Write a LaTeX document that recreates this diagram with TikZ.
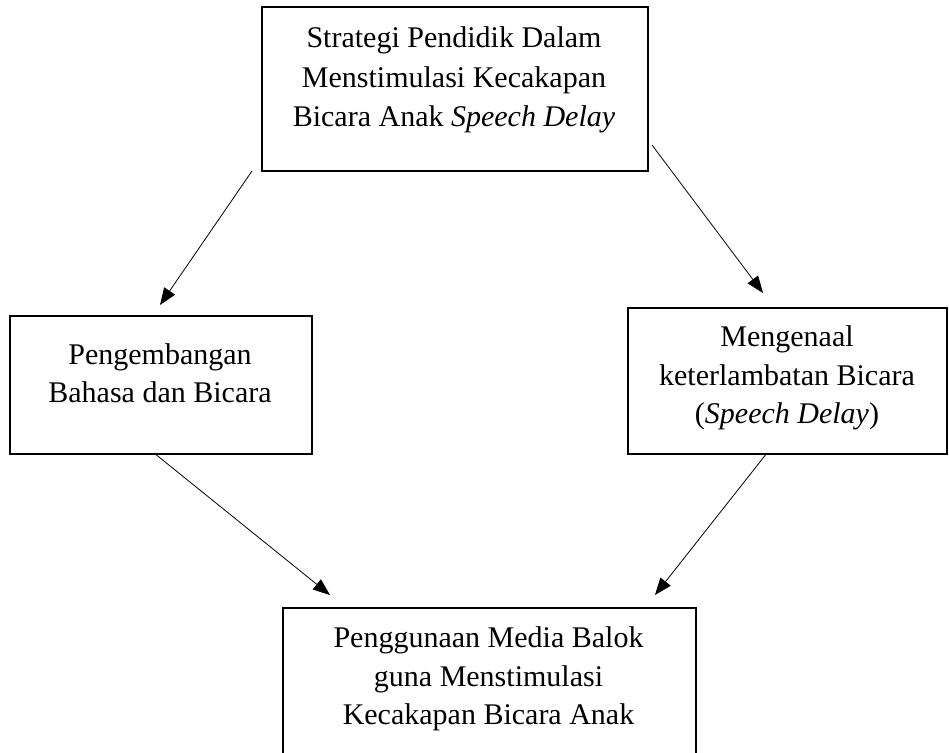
\documentclass[tikz,border=0pt]{standalone}
\usepackage{fontspec}
\setmainfont{Liberation Serif}
\usetikzlibrary{arrows.meta}
\begin{document}
\begin{tikzpicture}[x=1pt,y=-1pt,
  box/.style={draw,line width=1.8pt,inner sep=0pt,anchor=north west},
  txt/.style={inner sep=0pt,anchor=base,font=\fontsize{30}{39}\selectfont},
  arr/.style={line width=0.8pt,-{Triangle[length=17pt,width=13pt]}}]
\useasboundingbox (0,0) rectangle (949,752);
\clip (0,0) rectangle (949,752);
% boxes
\node[box,minimum width=386pt,minimum height=164pt] (topbox) at (261,6) {};
\node[box,minimum width=302pt,minimum height=138pt] (leftbox) at (9,315) {};
\node[box,minimum width=319pt,minimum height=146pt] (rightbox) at (627,307) {};
\node[box,minimum width=413pt,minimum height=180pt] (botbox) at (282,607) {};
% texts
\node[txt] (t1) at (454,48) {Strategi Pendidik Dalam};
\node[txt] (t2) at (454,87) {Menstimulasi Kecakapan};
\node[txt] (t3) at (454,126) {Bicara Anak \textit{Speech Delay}};
\node[txt] (l1) at (160,364) {Pengembangan};
\node[txt] (l2) at (160,402) {Bahasa dan Bicara};
\node[txt] (r1) at (787,346) {Mengenaal};
\node[txt] (r2) at (787,385) {keterlambatan Bicara};
\node[txt] (r3) at (787,423) {(\textit{Speech Delay})};
\node[txt] (b1) at (488.5,647) {Penggunaan Media Balok};
\node[txt] (b2) at (488.5,686) {guna Menstimulasi};
\node[txt] (b3) at (488.5,724) {Kecakapan Bicara Anak};
% connector end points
\coordinate (a1s) at (252,171);
\coordinate (a1e) at (160,305);
\coordinate (a2s) at (652,145);
\coordinate (a2e) at (763,293);
\coordinate (a3s) at (154,453);
\coordinate (a3e) at (330,595);
\coordinate (a4s) at (767,453);
\coordinate (a4e) at (655,595);
\draw[arr] (a1s) -- (a1e);
\draw[arr] (a2s) -- (a2e);
\draw[arr] (a3s) -- (a3e);
\draw[arr] (a4s) -- (a4e);
\end{tikzpicture}
\end{document}
